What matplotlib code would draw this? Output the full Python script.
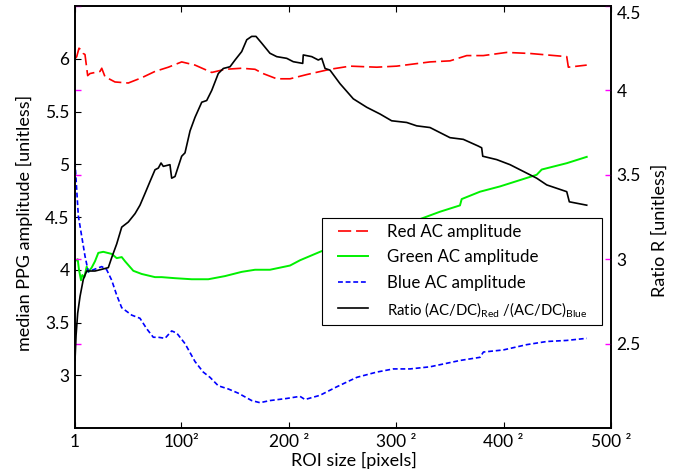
import matplotlib
matplotlib.use("Agg")
import matplotlib.pyplot as plt
from matplotlib.legend_handler import HandlerLine2D

plt.rcParams['font.family'] = ['Lato', 'DejaVu Sans']
plt.rcParams['lines.scale_dashes'] = False
plt.rcParams['mathtext.default'] = 'regular'

# ROI side length [pixels] (x axis: 1 .. 500, labelled as squares)
red_x = [1.0, 2.6, 4.7, 7.2, 8.7, 10.3, 12.8, 15.0, 19.6, 24.3, 25.9, 28.9, 38.2, 50.6, 63.1,
         75.5, 87.9, 100.3, 112.7, 128.3, 140.7, 156.2, 168.6, 176.0, 188.8, 201.2, 216.7,
         238.4, 257.0, 281.9, 300.5, 331.5, 350.1, 365.7, 381.1, 402.9, 424.6, 458.8, 460.3, 477.4]
red_y = [6.00, 6.02, 6.10, 6.08, 6.05, 6.04, 5.84, 5.86, 5.87, 5.88, 5.91, 5.83, 5.78, 5.77, 5.82,
         5.88, 5.92, 5.97, 5.94, 5.87, 5.90, 5.91, 5.90, 5.86, 5.81, 5.81, 5.85,
         5.90, 5.93, 5.92, 5.93, 5.97, 5.98, 6.03, 6.03, 6.06, 6.05, 6.02, 5.92, 5.94]

green_x = [1.0, 3.5, 4.7, 6.6, 7.8, 9.7, 11.9, 13.4, 16.5, 19.6, 22.7, 27.3, 35.2, 39.8, 44.5,
           47.6, 55.3, 63.1, 75.5, 81.7, 94.1, 109.6, 125.1, 140.7, 156.2, 168.6, 182.5, 201.2,
           210.5, 229.1, 257.0, 285.0, 303.6, 322.2, 340.8, 359.4, 361.0, 378.1, 396.7, 415.3,
           430.8, 435.5, 458.8, 477.4]
green_y = [4.08, 4.10, 4.00, 3.90, 3.95, 3.93, 4.03, 3.98, 4.02, 4.08, 4.16, 4.17, 4.15, 4.11, 4.12,
           4.08, 3.99, 3.96, 3.93, 3.93, 3.92, 3.91, 3.91, 3.94, 3.98, 4.00, 4.00, 4.04,
           4.09, 4.17, 4.28, 4.37, 4.43, 4.48, 4.55, 4.61, 4.67, 4.74, 4.79, 4.85,
           4.90, 4.95, 5.01, 5.07]

blue_x = [1.0, 4.1, 7.2, 10.3, 13.4, 18.0, 25.9, 30.5, 35.2, 39.8, 44.5, 53.8, 61.5, 67.8, 73.9,
          78.6, 84.8, 91.0, 95.7, 103.4, 112.7, 120.4, 126.7, 134.4, 143.7, 153.0, 165.5, 173.2,
          182.5, 198.1, 210.5, 215.1, 229.1, 244.6, 263.3, 281.9, 297.4, 312.9, 331.5, 340.8,
          359.4, 378.1, 381.2, 399.8, 421.5, 440.2, 458.8, 477.4]
blue_y = [5.02, 4.51, 4.32, 4.13, 3.98, 4.00, 4.03, 4.00, 3.90, 3.76, 3.64, 3.57, 3.54, 3.44, 3.36,
          3.36, 3.35, 3.42, 3.40, 3.30, 3.13, 3.03, 2.98, 2.90, 2.87, 2.83, 2.76, 2.74,
          2.76, 2.78, 2.80, 2.77, 2.81, 2.89, 2.98, 3.03, 3.06, 3.06, 3.08, 3.10,
          3.14, 3.17, 3.22, 3.24, 3.29, 3.32, 3.33, 3.35]

ratio_x = [1.0, 2.0, 3.5, 5.7, 8.7, 11.9, 16.5, 19.6, 25.9, 32.0, 35.2, 39.8, 44.5, 50.6, 56.9,
           61.5, 66.2, 70.8, 75.5, 78.6, 81.1, 83.2, 89.4, 91.0, 94.1, 100.3, 103.4, 108.1,
           112.7, 119.0, 123.6, 128.3, 134.4, 139.1, 145.3, 150.0, 156.2, 160.9, 165.5, 169.5,
           174.8, 182.5, 188.8, 198.1, 204.2, 213.0, 213.5, 221.4, 227.5, 230.7, 233.8, 238.4,
           247.7, 260.1, 272.6, 285.0, 295.8, 309.8, 319.1, 331.5, 350.1, 362.5, 376.5, 379.6,
           380.6, 393.6, 406.0, 418.4, 430.8, 440.2, 458.8, 461.2, 477.4]
ratio_y = [2.40, 2.55, 2.68, 2.78, 2.88, 2.93, 2.93, 2.93, 2.94, 2.95, 3.01, 3.09, 3.19, 3.22, 3.27,
           3.32, 3.39, 3.46, 3.53, 3.54, 3.57, 3.55, 3.56, 3.48, 3.49, 3.61, 3.63, 3.76,
           3.84, 3.93, 3.94, 4.00, 4.10, 4.13, 4.14, 4.18, 4.23, 4.30, 4.32, 4.32,
           4.28, 4.22, 4.20, 4.19, 4.17, 4.16, 4.21, 4.20, 4.18, 4.19, 4.13, 4.12,
           4.04, 3.95, 3.90, 3.86, 3.82, 3.81, 3.79, 3.78, 3.72, 3.71, 3.67, 3.66,
           3.61, 3.59, 3.56, 3.52, 3.48, 3.44, 3.40, 3.34, 3.32]

x_ticks = [1, 100, 200, 300, 400, 500]
x_ticklabels = ["1", "100²", "200 ²", "300 ²", "400 ²", "500 ²"]
left_ticks = [3, 3.5, 4, 4.5, 5, 5.5, 6]
left_ticklabels = ["3", "3.5", "4", "4.5", "5", "5.5", "6"]
right_ticks = [2.5, 3, 3.5, 4, 4.5]
right_ticklabels = ["2.5", "3", "3.5", "4", "4.5"]

W, H = 673, 472
fig = plt.figure(figsize=(W / 100, H / 100), dpi=100)
L, R, T, B = 75, 611, 6, 428
ax1 = fig.add_axes([L / W, 1 - B / H, (R - L) / W, (B - T) / H])
ax2 = ax1.twinx()

fs = 12.5
lab_fs = 13
lw = 1.2
l_red, = ax1.plot(red_x, red_y, color='#ff0000', lw=lw, dashes=(9.5, 3.5),
                  label='Red AC amplitude')
l_green, = ax1.plot(green_x, green_y, color='#00f000', lw=1.4,
                    label='Green AC amplitude')
l_blue, = ax1.plot(blue_x, blue_y, color='#0000ff', lw=lw, dashes=(3.5, 2.0),
                   label='Blue AC amplitude')
l_ratio, = ax2.plot(ratio_x, ratio_y, color='black', lw=lw,
                    label='Ratio (AC/DC)$_{Red}$ /(AC/DC)$_{Blue}$')

ax1.set_xlim(1, 500)
ax1.set_ylim(2.5, 6.5)
ax2.set_ylim(2.0, 4.5)

ax1.set_xticks(x_ticks)
ax1.set_xticklabels(x_ticklabels, fontsize=fs)
ax1.set_yticks(left_ticks)
ax1.set_yticklabels(left_ticklabels, fontsize=fs)
ax2.set_yticks(right_ticks)
ax2.set_yticklabels(right_ticklabels, fontsize=fs)
ax2.get_yticklabels()[-1].set_va('top')

ax1.tick_params(axis='x', direction='in', length=4, width=0.8, top=True, pad=4)
ax1.tick_params(axis='y', direction='in', length=4, width=0.8, pad=4)
ax2.tick_params(axis='y', direction='in', length=4, width=1.0, color='#ff00ff',
                left=True, right=True, labelleft=False, labelright=True, pad=4)

for ax in (ax1, ax2):
    for s in ax.spines.values():
        s.set_linewidth(1.2)

ax1.set_xlabel('ROI size [pixels]', fontsize=lab_fs)
ax1.xaxis.set_label_coords(0.5205, -0.057)
ax1.set_ylabel('median PPG amplitude [unitless]', fontsize=lab_fs)
ax1.yaxis.set_label_coords(-0.078, 0.487)
ax2.set_ylabel('Ratio R [unitless]', fontsize=lab_fs)
ax2.yaxis.set_label_coords(1.0765, 0.469)

lfs = 12.2
lpx = lfs * 100 / 72
hmap = {l: HandlerLine2D(xpad=10 / lpx) for l in (l_red, l_green, l_blue, l_ratio)}
leg = ax2.legend(handles=[l_red, l_green, l_blue, l_ratio], loc='upper left',
                 bbox_to_anchor=(322 / W, 1 - 326 / H, 280 / W, 108 / H),
                 bbox_transform=fig.transFigure, mode='expand', handler_map=hmap,
                 fontsize=lfs, frameon=True, fancybox=False, framealpha=1,
                 edgecolor='black', borderaxespad=0, handlelength=40 / lpx,
                 handletextpad=19 / lpx, labelspacing=0.55, borderpad=0.35)
leg.get_frame().set_linewidth(0.8)
leg.get_texts()[3].set_fontsize(10.7)

fig.savefig('out.png', dpi=100)
